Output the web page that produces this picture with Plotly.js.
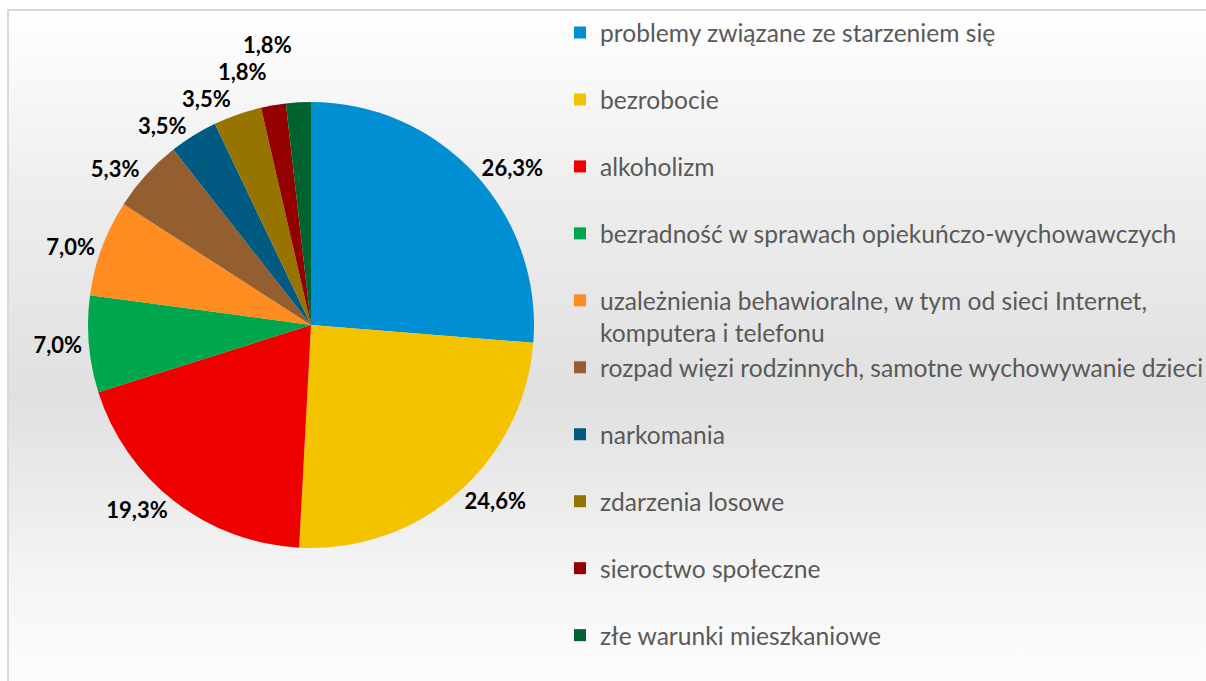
<!DOCTYPE html>
<html>
<head>
<meta charset="utf-8">
<script src="https://cdn.plot.ly/plotly-3.0.1.min.js"></script>
<style>
  body { margin: 0; background: #ffffff; overflow: hidden; }
  #frame {
    position: absolute; left: 7px; top: 9px; width: 1230px; height: 700px;
    border: 2px solid #d9d9d9;
    background: linear-gradient(to bottom, #ffffff 0%, #eeeeee 25%, #e0e0e0 55%, #f4f4f4 80%, #ffffff 100%);
  }
  #chart { position: absolute; left: 0; top: 0; width: 1206px; height: 681px; }
  /* the original has no leader lines next to the labels */
  #chart path.textline { stroke-opacity: 0 !important; }
</style>
</head>
<body>
<div id="frame"></div>
<div id="chart"></div>
<script>
// categories in drawing order (clockwise from 12 o'clock)
const categories = [
    'problemy związane ze starzeniem się',
    'bezrobocie',
    'alkoholizm',
    'bezradność w sprawach opiekuńczo-wychowawczych',
    'uzależnienia behawioralne, w tym od sieci Internet,<br>komputera i telefonu',
    'rozpad więzi rodzinnych, samotne wychowywanie dzieci',
    'narkomania',
    'zdarzenia losowe',
    'sieroctwo społeczne',
    'złe warunki mieszkaniowe'
];

// shares in percent
const shares = [26.3, 24.6, 19.3, 7.0, 7.0, 5.3, 3.5, 3.5, 1.8, 1.8];

const sliceColors = [
    '#008fd3', '#f4c300', '#ee0000', '#00a64c', '#ff8c21',
    '#935f30', '#005a82', '#977400', '#940000', '#00632f'
];

// legend entries take two lines so the items are spread out like in the original
// (the last one does not need the spacer line)
const legendLabels = categories.map(function (c, i) {
    if (c.indexOf('<br>') >= 0 || i === categories.length - 1) return c;
    return c + '<br> ';
});

let data = [{
    type: 'pie',
    values: shares,
    labels: legendLabels,
    sort: false,
    direction: 'clockwise',
    rotation: 0,
    marker: { colors: sliceColors, line: { width: 0 } },
    texttemplate: '%{value:.1f}%',
    textposition: 'outside',
    outsidetextfont: { family: 'Lato, sans-serif', size: 22, color: '#000000', weight: 'bold' },
    domain: { x: [88 / 1206, 534 / 1206], y: [133 / 681, 579 / 681] },
    hoverinfo: 'skip'
}];

let layout = {
    width: 1206,
    height: 681,
    margin: { l: 0, r: 0, t: 0, b: 0, autoexpand: false },
    paper_bgcolor: 'rgba(0,0,0,0)',
    plot_bgcolor: 'rgba(0,0,0,0)',
    separators: ', ',
    showlegend: true,
    legend: {
        x: 560 / 1206,
        xanchor: 'left',
        y: 1 - 10 / 681,
        yanchor: 'top',
        valign: 'top',
        bgcolor: 'rgba(0,0,0,0)',
        font: { family: 'Lato, sans-serif', size: 24.6, color: '#595959' }
    }
};

Plotly.newPlot('chart', data, layout, { displayModeBar: false, staticPlot: true });
</script>
</body>
</html>
